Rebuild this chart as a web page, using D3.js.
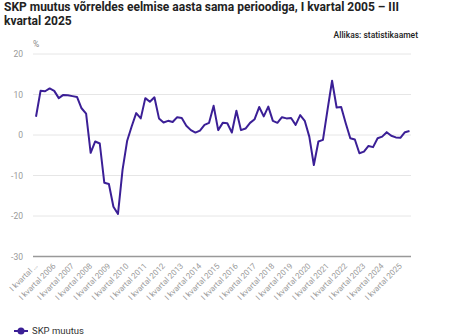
<!DOCTYPE html>
<html><head><meta charset="utf-8">
<script src="https://cdn.jsdelivr.net/npm/d3@7/dist/d3.min.js"></script>
<style>body{margin:0;background:#fff;overflow:hidden} text{font-family:Roboto, "Open Sans", sans-serif;}</style>
</head><body><svg id="c" width="458" height="336"></svg>
<script>
const titleLines = ["SKP muutus võrreldes eelmise aasta sama perioodiga, I kvartal 2005 – III", "kvartal 2025"];
const sourceText = "Allikas: statistikaamet";
const unitLabel = "%";
const seriesName = "SKP muutus";
const yTicks = [-30, -20, -10, 0, 10, 20];
// quarterly values, I kvartal 2005 ... III kvartal 2025
const values = [
  4.5, 10.9, 10.8, 11.5, 10.9, 9.1, 9.9, 9.8, 9.6, 9.4,
  6.6, 5.3, -4.4, -1.6, -2.1, -11.8, -12.1, -17.7, -19.5, -8.6,
  -1.5, 2.1, 5.4, 4.1, 9.1, 8.2, 9.3, 4.1, 3.1, 3.5,
  3.2, 4.4, 4.2, 2.3, 1.2, 0.6, 1.1, 2.5, 3.0, 7.2,
  1.2, 3.0, 2.9, 0.6, 6.0, 1.2, 1.6, 3.0, 3.9, 6.9,
  4.6, 7.0, 3.5, 3.0, 4.4, 4.1, 4.2, 2.5, 4.9, 3.5,
  -0.4, -7.4, -1.6, -1.2, 6.2, 13.4, 6.8, 6.9, 2.9, -0.8,
  -1.1, -4.5, -4.1, -2.7, -3.0, -0.8, -0.4, 0.7, -0.2, -0.6,
  -0.7, 0.7, 1.0
];
const tickIndex = [0, 4, 8, 12, 16, 20, 24, 28, 32, 36, 40, 44, 48, 52, 56, 60, 64, 68, 72, 76, 80];
const tickLabels = ["I kvartal …", "I kvartal 2006", "I kvartal 2007", "I kvartal 2008", "I kvartal 2009",
  "I kvartal 2010", "I kvartal 2011", "I kvartal 2012", "I kvartal 2013", "I kvartal 2014",
  "I kvartal 2015", "I kvartal 2016", "I kvartal 2017", "I kvartal 2018", "I kvartal 2019",
  "I kvartal 2020", "I kvartal 2021", "I kvartal 2022", "I kvartal 2023", "I kvartal 2024", "I kvartal 2025"];

const svg = d3.select("#c");
const color = "#3b1f96";
const x = d3.scaleLinear().domain([0, values.length - 1]).range([36, 409.5]);
const y = d3.scaleLinear().domain([-30, 20]).range([256.5, 54]);
const gx0 = 33, gx1 = 411;

// title
svg.append("text").attr("x", 4).attr("y", 11).attr("font-size", 12).attr("font-weight", "bold").attr("fill", "#222")
  .selectAll("tspan").data(titleLines).join("tspan").attr("x", 4).attr("dy", (d, i) => i ? 14 : 0).text(d => d);
svg.append("text").attr("x", 418).attr("y", 38).attr("text-anchor", "end").attr("font-size", 8.5)
  .attr("font-weight", 500).attr("fill", "#222").text(sourceText);
svg.append("text").attr("x", 33).attr("y", 47).attr("font-size", 8.5).attr("fill", "#888").text(unitLabel);

// grid
svg.append("g").selectAll("line").data(yTicks.filter(t => t > -30)).join("line")
  .attr("x1", gx0).attr("x2", gx1).attr("y1", d => y(d)).attr("y2", d => y(d))
  .attr("stroke", "#e6e6e6").attr("stroke-width", 1);
svg.append("line").attr("x1", gx0).attr("x2", gx1).attr("y1", y(-30)).attr("y2", y(-30)).attr("stroke", "#999").attr("stroke-width", 1.5);
svg.append("g").selectAll("text").data(yTicks).join("text")
  .attr("x", 23).attr("y", d => y(d) + 3).attr("text-anchor", "end").attr("font-size", 8.5).attr("fill", "#999").text(d => d);

// x labels
svg.append("g").selectAll("text").data(tickIndex).join("text")
  .attr("text-anchor", "end").attr("font-size", 8).attr("fill", "#999")
  .attr("transform", d => `translate(${x(d) + 2},${y(-30) + 10}) rotate(-45)`)
  .text((d, i) => tickLabels[i]);

// line
svg.append("path").datum(values).attr("fill", "none").attr("stroke", color).attr("stroke-width", 2)
  .attr("stroke-linejoin", "round")
  .attr("d", d3.line().x((d, i) => x(i)).y(d => y(d)));

// legend
svg.append("line").attr("x1", 14).attr("x2", 28).attr("y1", 331).attr("y2", 331).attr("stroke", color).attr("stroke-width", 2);
svg.append("circle").attr("cx", 21).attr("cy", 331).attr("r", 3.5).attr("fill", color);
svg.append("text").attr("x", 32).attr("y", 333.5).attr("font-size", 9.5).attr("fill", "#333").text(seriesName);
</script></body></html>
